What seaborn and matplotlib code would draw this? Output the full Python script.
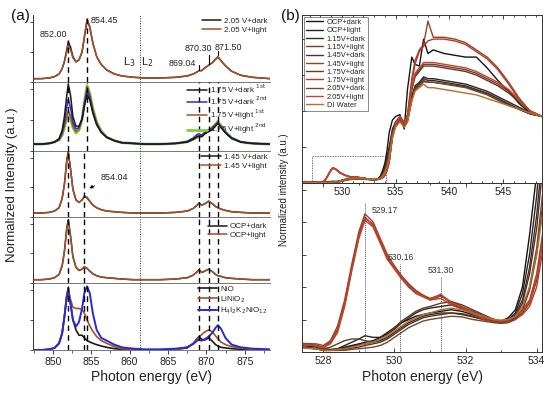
import matplotlib
matplotlib.use("Agg")
import matplotlib.pyplot as plt
import seaborn as sns
from matplotlib.patches import Rectangle
from matplotlib.ticker import MultipleLocator

# ---------------- data: panel (a) Ni L-edge ----------------
XL = [847.5, 848.5, 849.5, 850.2, 850.8, 851.2, 851.5, 851.8, 852.0, 852.3, 852.6, 853.0, 853.4, 853.8,
      854.1, 854.45, 854.8, 855.2, 855.7, 856.3, 857.0, 858.0, 859.0, 860.5, 862.0, 864.0, 866.0, 867.5,
      868.3, 868.8, 869.04, 869.4, 869.8, 870.3, 870.8, 871.2, 871.5, 871.9, 872.5, 873.3, 874.5, 876.0, 878.3]

v205_dark = [0.05, 0.05, 0.06, 0.08, 0.12, 0.2, 0.31, 0.48, 0.6, 0.52, 0.38, 0.3, 0.33, 0.45, 0.67, 0.92, 0.82,
             0.58, 0.38, 0.26, 0.18, 0.12, 0.09, 0.07, 0.06, 0.06, 0.07, 0.09, 0.12, 0.15, 0.17, 0.17, 0.21,
             0.25, 0.29, 0.34, 0.37, 0.32, 0.24, 0.16, 0.1, 0.07, 0.05]
v205_light = [0.05, 0.05, 0.06, 0.08, 0.12, 0.2, 0.3, 0.45, 0.55, 0.48, 0.36, 0.3, 0.33, 0.45, 0.68, 0.94, 0.83,
              0.59, 0.38, 0.26, 0.18, 0.12, 0.09, 0.07, 0.06, 0.06, 0.07, 0.09, 0.12, 0.15, 0.17, 0.17, 0.21,
              0.25, 0.29, 0.34, 0.38, 0.32, 0.24, 0.16, 0.1, 0.07, 0.05]

v175_dark1 = [0.1, 0.1, 0.11, 0.13, 0.18, 0.3, 0.5, 0.8, 0.97, 0.8, 0.5, 0.36, 0.36, 0.46, 0.65, 0.82, 0.74, 0.55,
              0.38, 0.27, 0.2, 0.15, 0.12, 0.11, 0.1, 0.1, 0.11, 0.13, 0.17, 0.21, 0.22, 0.21, 0.25, 0.28, 0.31,
              0.36, 0.4, 0.34, 0.26, 0.18, 0.13, 0.11, 0.1]
v175_dark2 = [0.1, 0.1, 0.11, 0.13, 0.17, 0.27, 0.42, 0.63, 0.75, 0.62, 0.42, 0.32, 0.34, 0.47, 0.68, 0.88, 0.78,
              0.57, 0.39, 0.27, 0.2, 0.15, 0.12, 0.11, 0.1, 0.1, 0.11, 0.14, 0.19, 0.24, 0.25, 0.23, 0.27, 0.3,
              0.33, 0.37, 0.41, 0.35, 0.27, 0.19, 0.13, 0.11, 0.1]
v175_light1 = [0.1, 0.1, 0.11, 0.13, 0.16, 0.24, 0.36, 0.5, 0.58, 0.5, 0.36, 0.28, 0.32, 0.47, 0.7, 0.93, 0.82, 0.6,
               0.41, 0.28, 0.2, 0.15, 0.12, 0.11, 0.1, 0.1, 0.11, 0.13, 0.17, 0.2, 0.21, 0.21, 0.26, 0.3, 0.34,
               0.39, 0.42, 0.36, 0.27, 0.19, 0.13, 0.11, 0.1]
v175_light2 = [0.1, 0.1, 0.11, 0.13, 0.16, 0.23, 0.34, 0.47, 0.55, 0.47, 0.34, 0.26, 0.3, 0.46, 0.7, 0.95, 0.84,
               0.62, 0.42, 0.29, 0.2, 0.15, 0.12, 0.11, 0.1, 0.1, 0.11, 0.13, 0.17, 0.2, 0.21, 0.21, 0.26, 0.3,
               0.34, 0.39, 0.43, 0.37, 0.28, 0.19, 0.13, 0.11, 0.1]

v145_dark = [0.06, 0.06, 0.07, 0.09, 0.14, 0.28, 0.5, 0.86, 0.99, 0.73, 0.42, 0.26, 0.22, 0.26, 0.31, 0.29, 0.24,
             0.18, 0.14, 0.11, 0.09, 0.08, 0.07, 0.06, 0.06, 0.06, 0.07, 0.09, 0.13, 0.18, 0.21, 0.18, 0.2, 0.24,
             0.2, 0.16, 0.14, 0.12, 0.1, 0.08, 0.07, 0.06, 0.06]
v145_light = [0.06, 0.06, 0.07, 0.09, 0.14, 0.28, 0.5, 0.84, 0.97, 0.71, 0.42, 0.26, 0.22, 0.26, 0.32, 0.3, 0.24,
              0.18, 0.14, 0.11, 0.09, 0.08, 0.07, 0.06, 0.06, 0.06, 0.07, 0.09, 0.13, 0.18, 0.21, 0.18, 0.2, 0.24,
              0.2, 0.16, 0.14, 0.12, 0.1, 0.08, 0.07, 0.06, 0.06]

ocp_dark = [0.05, 0.05, 0.06, 0.08, 0.13, 0.26, 0.48, 0.83, 0.96, 0.71, 0.4, 0.24, 0.19, 0.21, 0.24, 0.22, 0.18,
            0.14, 0.11, 0.09, 0.08, 0.07, 0.06, 0.05, 0.05, 0.05, 0.06, 0.08, 0.12, 0.17, 0.2, 0.16, 0.18, 0.21,
            0.17, 0.13, 0.11, 0.1, 0.08, 0.07, 0.06, 0.05, 0.05]
ocp_light = [0.05, 0.05, 0.06, 0.08, 0.13, 0.26, 0.48, 0.81, 0.94, 0.69, 0.4, 0.24, 0.19, 0.21, 0.25, 0.22, 0.18,
             0.14, 0.11, 0.09, 0.08, 0.07, 0.06, 0.05, 0.05, 0.05, 0.06, 0.08, 0.12, 0.17, 0.2, 0.16, 0.18, 0.21,
             0.17, 0.13, 0.11, 0.1, 0.08, 0.07, 0.06, 0.05, 0.05]

ref_nio = [0.0, 0.0, 0.01, 0.03, 0.1, 0.25, 0.5, 0.82, 0.93, 0.7, 0.45, 0.3, 0.22, 0.22, 0.18, 0.14, 0.12, 0.1,
           0.08, 0.06, 0.04, 0.02, 0.01, 0.0, 0.0, 0.0, 0.01, 0.03, 0.1, 0.17, 0.2, 0.16, 0.15, 0.18, 0.13, 0.08,
           0.06, 0.04, 0.03, 0.02, 0.01, 0.0, 0.0]
ref_linio2 = [0.0, 0.0, 0.01, 0.03, 0.1, 0.25, 0.5, 0.8, 0.9, 0.75, 0.64, 0.62, 0.62, 0.6, 0.55, 0.45, 0.36, 0.28,
              0.2, 0.14, 0.1, 0.05, 0.02, 0.01, 0.0, 0.0, 0.01, 0.04, 0.1, 0.16, 0.19, 0.23, 0.27, 0.3, 0.27,
              0.21, 0.17, 0.12, 0.08, 0.05, 0.03, 0.01, 0.0]
ref_hik = [0.0, 0.0, 0.01, 0.03, 0.1, 0.25, 0.5, 0.78, 0.87, 0.68, 0.45, 0.35, 0.42, 0.62, 0.85, 0.95, 0.85, 0.55,
           0.3, 0.18, 0.14, 0.08, 0.04, 0.02, 0.01, 0.01, 0.02, 0.04, 0.09, 0.14, 0.15, 0.14, 0.16, 0.2, 0.26,
           0.33, 0.37, 0.32, 0.18, 0.08, 0.04, 0.02, 0.01]

# ---------------- data: panel (b) O K-edge ----------------
XO = [526.5, 527.8, 528.0, 528.2, 528.4, 528.6, 528.8, 529.0, 529.17, 529.4, 529.6, 529.8, 530.0, 530.2, 530.4,
      530.6, 530.8, 531.0, 531.3, 531.6, 531.9, 532.2, 532.5, 532.8, 533.0, 533.2, 533.4, 533.6, 533.8, 534.0,
      534.2, 534.4, 534.7, 535.0, 535.4, 535.8, 536.1, 536.5, 536.8, 537.2, 537.6, 538.0, 538.5, 539.5, 540.5,
      541.5, 542.5, 543.5, 544.5, 545.5, 546.5, 547.5, 548.6]

o_labels = ["OCP+dark", "OCP+light", "1.15V+dark", "1.15V+light", "1.45V+dark", "1.45V+light",
            "1.75V+dark", "1.75V+light", "2.05V+dark", "2.05V+light", "DI Water"]

o_ocp_dark = [0.4, 0.2, 0.1, 0.08, 0.1, 0.15, 0.2, 0.25, 0.3, 0.35, 0.45, 0.6, 0.75, 0.9, 1.0, 1.1, 1.15, 1.2, 1.25,
              1.3, 1.25, 1.15, 1.05, 0.95, 0.95, 1.05, 1.3, 2.0, 3.6, 5.5, 9.0,
              14, 17.5, 18.5, 19, 15, 26, 35, 33, 32.5, 40, 36, 37, 36, 35.5, 35, 35, 32, 28.5, 25.5, 22, 19.5, 18.5]
o_ocp_light = [0.3, 0.15, 0.05, 0.05, 0.1, 0.2, 0.3, 0.4, 0.5, 0.45, 0.45, 0.55, 0.7, 0.9, 1.05, 1.2, 1.3, 1.35,
               1.4, 1.45, 1.35, 1.25, 1.1, 1.0, 0.95, 1.0, 1.2, 1.8, 3.0, 4.8, 7.5,
               10, 15, 17, 18, 16, 18, 24, 27, 28, 29.5, 29, 29, 28.5, 28, 27.5, 26.5, 25.5, 24, 22.5, 21, 19.5, 18.5]
o_115_dark = [0.25, 0.1, 0.05, 0.05, 0.08, 0.12, 0.18, 0.22, 0.25, 0.3, 0.35, 0.45, 0.6, 0.75, 0.9, 1.0, 1.1, 1.15,
              1.2, 1.2, 1.18, 1.1, 1.0, 0.95, 0.92, 0.98, 1.15, 1.6, 2.6, 4.2, 6.5,
              9, 14, 16.5, 18, 16, 17.5, 23.5, 26.5, 27.5, 29, 28.5, 28.5, 28, 27.5, 27, 26, 25, 23.5, 22, 20.5,
              19.2, 18.5]
o_115_light = [0.35, 0.2, 0.15, 0.3, 0.7, 1.5, 2.6, 3.6, 4.15, 3.9, 3.4, 2.9, 2.6, 2.3, 2.05, 1.85, 1.75, 1.65,
               1.75, 1.5, 1.35, 1.2, 1.05, 0.95, 0.92, 0.95, 1.05, 1.2, 1.5, 2.2, 3.6,
               6, 13, 16.5, 18.5, 16.5, 18.5, 26, 30, 31.5, 33, 33, 33, 32.5, 32, 31.5, 30.5, 29, 27.5, 25.5, 23,
               20, 18.5]
o_145_dark = [0.2, 0.1, 0.05, 0.05, 0.05, 0.08, 0.12, 0.15, 0.2, 0.25, 0.3, 0.4, 0.55, 0.7, 0.85, 0.95, 1.05, 1.1,
              1.15, 1.2, 1.15, 1.08, 1.0, 0.95, 0.92, 0.95, 1.1, 1.5, 2.4, 3.8, 6.0,
              8.5, 13.5, 16, 17.8, 15.8, 17.3, 23, 26, 27, 28.2, 28, 28, 27.6, 27.2, 26.7, 25.8, 24.8, 23.3, 21.8,
              20.4, 19.2, 18.5]
o_145_light = [0.3, 0.25, 0.2, 0.35, 0.8, 1.6, 2.7, 3.7, 4.25, 4.0, 3.5, 3.0, 2.65, 2.35, 2.1, 1.9, 1.75, 1.6,
               1.72, 1.55, 1.4, 1.25, 1.1, 1.0, 0.95, 0.98, 1.1, 1.3, 1.6, 2.4, 3.9,
               6, 13, 16.5, 18.5, 17, 19, 29, 34, 37, 38.5, 45, 40.5, 40.5, 40, 39, 37, 35, 32, 28, 23.5, 20, 18.5]
o_175_dark = [0.2, 0.1, 0.1, 0.15, 0.25, 0.35, 0.4, 0.4, 0.35, 0.3, 0.4, 0.55, 0.75, 0.95, 1.1, 1.25, 1.35, 1.4,
              1.5, 1.55, 1.45, 1.3, 1.15, 1.0, 0.95, 0.95, 1.05, 1.3, 1.9, 3.0, 4.8,
              8, 14, 17, 18.5, 16, 18, 26, 29.5, 31, 32.5, 32.5, 32.5, 32, 31.5, 31, 30, 28.5, 27, 25, 22.5, 20,
              18.5]
o_175_light = [0.4, 0.2, 0.15, 0.25, 0.6, 1.4, 2.5, 3.5, 4.05, 3.85, 3.35, 2.85, 2.55, 2.25, 2.0, 1.8, 1.7, 1.6,
               1.65, 1.45, 1.32, 1.18, 1.0, 0.92, 0.9, 0.92, 1.0, 1.15, 1.4, 2.0, 3.3,
               5.5, 12.5, 16, 18, 16.5, 18.5, 28, 33, 36.5, 38, 39.5, 40, 40, 39.5, 38.5, 36.5, 34.5, 31.5, 27.5,
               23, 20, 18.5]
o_205_dark = [0.25, 0.1, 0.05, 0.05, 0.05, 0.05, 0.08, 0.1, 0.12, 0.15, 0.2, 0.3, 0.45, 0.6, 0.75, 0.85, 0.95, 1.0,
              1.05, 1.1, 1.08, 1.0, 0.95, 0.9, 0.88, 0.9, 1.0, 1.3, 2.0, 3.2, 5.2,
              8.5, 13.5, 16, 17.5, 15.5, 17, 23, 26, 27, 28.5, 28, 28, 27.5, 27, 26.5, 25.5, 24.5, 23, 21.5, 20.5,
              19.3, 18.5]
o_205_light = [0.3, 0.2, 0.12, 0.28, 0.65, 1.45, 2.55, 3.55, 4.1, 3.95, 3.45, 2.95, 2.6, 2.3, 2.0, 1.85, 1.72, 1.62,
               1.78, 1.52, 1.38, 1.22, 1.05, 0.98, 0.95, 0.98, 1.1, 1.25, 1.55, 2.3, 3.7,
               6, 13, 16.5, 18.5, 16.5, 18.5, 26.5, 30.5, 32, 33.5, 33.5, 33.5, 33, 32.5, 32, 31, 29.5, 28, 26, 23,
               20, 18.5]
o_water = [0.15, 0.1, 0.05, 0.05, 0.08, 0.1, 0.15, 0.2, 0.25, 0.3, 0.4, 0.5, 0.65, 0.8, 0.95, 1.05, 1.15, 1.2, 1.3,
           1.35, 1.3, 1.2, 1.1, 1.0, 0.98, 1.0, 1.1, 1.4, 2.0, 3.0, 4.5,
           7, 12.5, 15.5, 17, 15.5, 17, 23, 25.5, 26.5, 27.5, 26.5, 26.5, 26, 25.5, 25, 24.5, 23.5, 22.5, 21.5, 20.5,
           19.5, 18.5]

o_series = [o_ocp_dark, o_ocp_light, o_115_dark, o_115_light, o_145_dark, o_145_light,
            o_175_dark, o_175_light, o_205_dark, o_205_light, o_water]
o_colors = ["#151515", "#2e2420", "#3e2a20", "#7a3a22", "#4e3426", "#8e4426",
            "#5e3c2a", "#b8382a", "#70482e", "#c4442c", "#b0702e"]

for s in [v205_dark, v205_light, v175_dark1, v175_dark2, v175_light1, v175_light2, v145_dark, v145_light,
          ocp_dark, ocp_light, ref_nio, ref_linio2, ref_hik]:
    assert len(s) == len(XL), len(s)
for s in o_series:
    assert len(s) == len(XO), len(s)

# ---------------- style ----------------
sns.set_theme(style="ticks")
plt.rcParams["font.family"] = ["Liberation Sans", "DejaVu Sans"]
plt.rcParams["axes.linewidth"] = 0.7

BLACK = "#1a1a1a"
BROWN = "#a4522a"
BLUE = "#2a2ad2"
GREEN = "#86cc3a"

fig = plt.figure(figsize=(5.5, 3.95), dpi=100)


def axpx(x0, y0, x1, y1):
    return fig.add_axes([x0 / 550, 1 - y1 / 395, (x1 - x0) / 550, (y1 - y0) / 395])


def draw(ax, x, y, color, lw=1.1, label=None, z=2):
    sns.lineplot(x=x, y=y, ax=ax, color=color, lw=lw, zorder=z, legend=False)
    ln = ax.get_lines()[-1]
    if label is not None:
        ln.set_label(label)
    return ln


# ---------------- panel (a) ----------------
edges = [15, 82, 151, 217, 283, 350]
axes_a = []
for i in range(5):
    ax = axpx(33, edges[i], 270, edges[i + 1])
    ax.set_facecolor("none")
    ax.set_xlim(847.4, 878.3)
    ax.set_ylim(0, 1.0)
    ax.set_yticks([0.0, 0.45, 0.9])
    ax.tick_params(axis="y", length=2.5, width=0.6, labelleft=False)
    for sp in ["top", "right"]:
        ax.spines[sp].set_visible(False)
    ax.spines["bottom"].set_color("#777777")
    ax.spines["left"].set_color("#333333")
    if i < 4:
        ax.tick_params(axis="x", length=0, labelbottom=False)
    axes_a.append(ax)

legkw = dict(frameon=False, fontsize=5.8, handlelength=2.4, labelspacing=0.12,
             borderaxespad=0.1, handletextpad=0.4, loc="upper right", borderpad=0.2)

# panel 1
ax = axes_a[0]
h = [draw(ax, XL, v205_dark, BLACK, label="2.05 V+dark"),
     draw(ax, XL, v205_light, BROWN, label="2.05 V+light")]
ax.legend(handles=h, **legkw)
ax.plot([852.0, 852.0], [0, 0.62], ls=(0, (4, 3)), color="black", lw=1.0)
ax.plot([854.45, 854.45], [0, 0.96], ls=(0, (4, 3)), color="black", lw=1.0)
for xv, y0, y1 in [(869.04, 0.18, 0.26), (870.3, 0.27, 0.4), (871.5, 0.4, 0.47)]:
    ax.plot([xv, xv], [y0, y1], color="black", lw=0.8)
ax.text(851.8, 0.64, "852.00", fontsize=6.4, ha="right", va="bottom", color="#222222")
ax.text(854.9, 0.92, "854.45", fontsize=6.4, ha="left", va="center", color="#222222")
ax.text(860.0, 0.3, "L$_3$", fontsize=8, ha="center", va="center", color="#222222")
ax.text(862.3, 0.3, "L$_2$", fontsize=8, ha="center", va="center", color="#222222")
ax.text(866.9, 0.28, "869.04", fontsize=6.4, ha="center", va="center", color="#222222")
ax.text(868.9, 0.5, "870.30", fontsize=6.4, ha="center", va="center", color="#222222")
ax.text(872.9, 0.52, "871.50", fontsize=6.4, ha="center", va="center", color="#222222")

# panel 2
ax = axes_a[1]
h = [draw(ax, XL, v175_light2, GREEN, lw=2.0, z=1),
     draw(ax, XL, v175_light1, BROWN),
     draw(ax, XL, v175_dark2, BLUE),
     draw(ax, XL, v175_dark1, BLACK)]
h[0].set_label(r"1.75 V+light $^{\mathrm{2nd}}$")
h[1].set_label(r"1.75 V+light $^{\mathrm{1st}}$")
h[2].set_label(r"1.75 V+dark $^{\mathrm{2nd}}$")
h[3].set_label(r"1.75 V+dark $^{\mathrm{1st}}$")
kw2 = dict(legkw)
kw2["labelspacing"] = 0.02
ax.legend(handles=[h[3], h[2], h[1], h[0]], bbox_to_anchor=(1.0, 1.03), **kw2)

# panel 3
ax = axes_a[2]
h = [draw(ax, XL, v145_dark, BLACK, label="1.45 V+dark"),
     draw(ax, XL, v145_light, BROWN, label="1.45 V+light")]
ax.legend(handles=h, **legkw)
ax.annotate("854.04", xy=(854.4, 0.42), xytext=(856.2, 0.6), fontsize=6.4, color="#222222",
            ha="left", va="center",
            arrowprops=dict(arrowstyle="-|>", color="black", lw=0.6, mutation_scale=5))

# panel 4
ax = axes_a[3]
h = [draw(ax, XL, ocp_dark, BLACK, label="OCP+dark"),
     draw(ax, XL, ocp_light, BROWN, label="OCP+light")]
ax.legend(handles=h, bbox_to_anchor=(1.0, 0.95), **legkw)

# panel 5
ax = axes_a[4]
h = [draw(ax, XL, ref_nio, BLACK, lw=1.2, label="NiO"),
     draw(ax, XL, ref_linio2, BROWN, lw=1.2, label="LiNiO$_2$"),
     draw(ax, XL, ref_hik, BLUE, lw=1.4, label="H$_4$I$_2$K$_2$NiO$_{12}$")]
ax.legend(handles=h, bbox_to_anchor=(1.0, 1.0), **legkw)
ax.set_xticks([850, 855, 860, 865, 870, 875])
ax.xaxis.set_minor_locator(MultipleLocator(2.5))
ax.tick_params(axis="x", which="major", length=3, width=0.6, labelsize=7.5, pad=2, colors="#222222")
ax.tick_params(axis="x", which="minor", length=1.8, width=0.5)
ax.set_xlabel("Photon energy (eV)", fontsize=10, labelpad=2, color="#222222")

# dashed reference lines in panels 2-5
for i in range(1, 5):
    ax = axes_a[i]
    xs = [852.0, 869.04, 870.3, 871.5]
    if i in (1, 4):
        xs.append(854.45)
    if i in (2, 3, 4):
        xs.append(854.04)
    for xv in xs:
        ax.axvline(xv, ls=(0, (4, 3)), color="black", lw=1.0, zorder=3)
for ax in axes_a:
    ax.axvline(861.4, ls=(0, (1, 1.5)), color="#333333", lw=0.7, zorder=3)

fig.text(12 / 550, 1 - 185 / 395, "Normalized Intensity (a.u.)", rotation=90, fontsize=9.5,
         ha="center", va="center", color="#222222")
fig.text(20 / 550, 1 - 16 / 395, "(a)", fontsize=11, ha="center", va="center", color="#111111")

# ---------------- panel (b) ----------------
axb2 = axpx(302, 183, 542, 352)
axb1 = axpx(302, 15, 542, 183)
for ax in (axb1, axb2):
    ax.set_facecolor("none")
    ax.tick_params(direction="in", which="both", top=True, right=False, width=0.6, labelleft=False,
                   colors="#222222")
    ax.tick_params(which="major", length=3)
    ax.tick_params(which="minor", length=1.6)
    for sp in ax.spines.values():
        sp.set_color("#333333")

ho = []
for s, c, lab in zip(o_series, o_colors, o_labels):
    ho.append(draw(axb1, XO, s, c, lw=1.0, label=lab))
axb1.set_xlim(526.3, 548.6)
axb1.set_ylim(0, 46.7)
axb1.set_yticks([0, 10, 20, 30, 40])
axb1.set_xticks([530, 535, 540, 545])
axb1.xaxis.set_minor_locator(MultipleLocator(1))
axb1.tick_params(axis="x", labelsize=7.5, pad=3)
axb1.add_patch(Rectangle((527.2, 0), 6.9, 7.5, fill=False, ls=(0, (1, 1)), lw=0.6, ec="#444444"))
leg = axb1.legend(handles=ho, loc="upper left", fontsize=5.4, handlelength=2.3, labelspacing=0.14,
                  borderaxespad=0.2, handletextpad=0.5, frameon=True, fancybox=False, borderpad=0.3)
leg.get_frame().set_edgecolor("#333333")
leg.get_frame().set_linewidth(0.5)

for s, c in zip(o_series, o_colors):
    draw(axb2, XO, s, c, lw=1.0)
axb2.set_xlim(527.4, 534.15)
axb2.set_ylim(0, 5.2)
axb2.set_yticks([0, 1, 2, 3, 4, 5])
axb2.set_xticks([528, 530, 532, 534])
axb2.xaxis.set_minor_locator(MultipleLocator(1))
axb2.tick_params(axis="x", labelsize=7.5, pad=3)
axb2.set_xlabel("Photon energy (eV)", fontsize=10, labelpad=3, color="#222222")
for xv, ytop, lab in [(529.17, 4.6, "529.17"), (530.16, 2.7, "530.16"), (531.3, 2.3, "531.30")]:
    axb2.plot([xv, xv], [0, ytop], ls=(0, (1, 1)), color="#555555", lw=0.7, zorder=3)
axb2.text(529.35, 4.35, "529.17", fontsize=6.2, ha="left", va="center", color="#333333")
axb2.text(530.19, 2.9, "530.16", fontsize=6.2, ha="center", va="center", color="#333333")
axb2.text(531.29, 2.5, "531.30", fontsize=6.2, ha="center", va="center", color="#333333")

fig.text(284 / 550, 1 - 190 / 395, "Normalized intensity (a.u.)", rotation=90, fontsize=7,
         ha="center", va="center", color="#222222")
fig.text(290 / 550, 1 - 16 / 395, "(b)", fontsize=11, ha="center", va="center", color="#111111")

fig.savefig("out.png", dpi=100)
